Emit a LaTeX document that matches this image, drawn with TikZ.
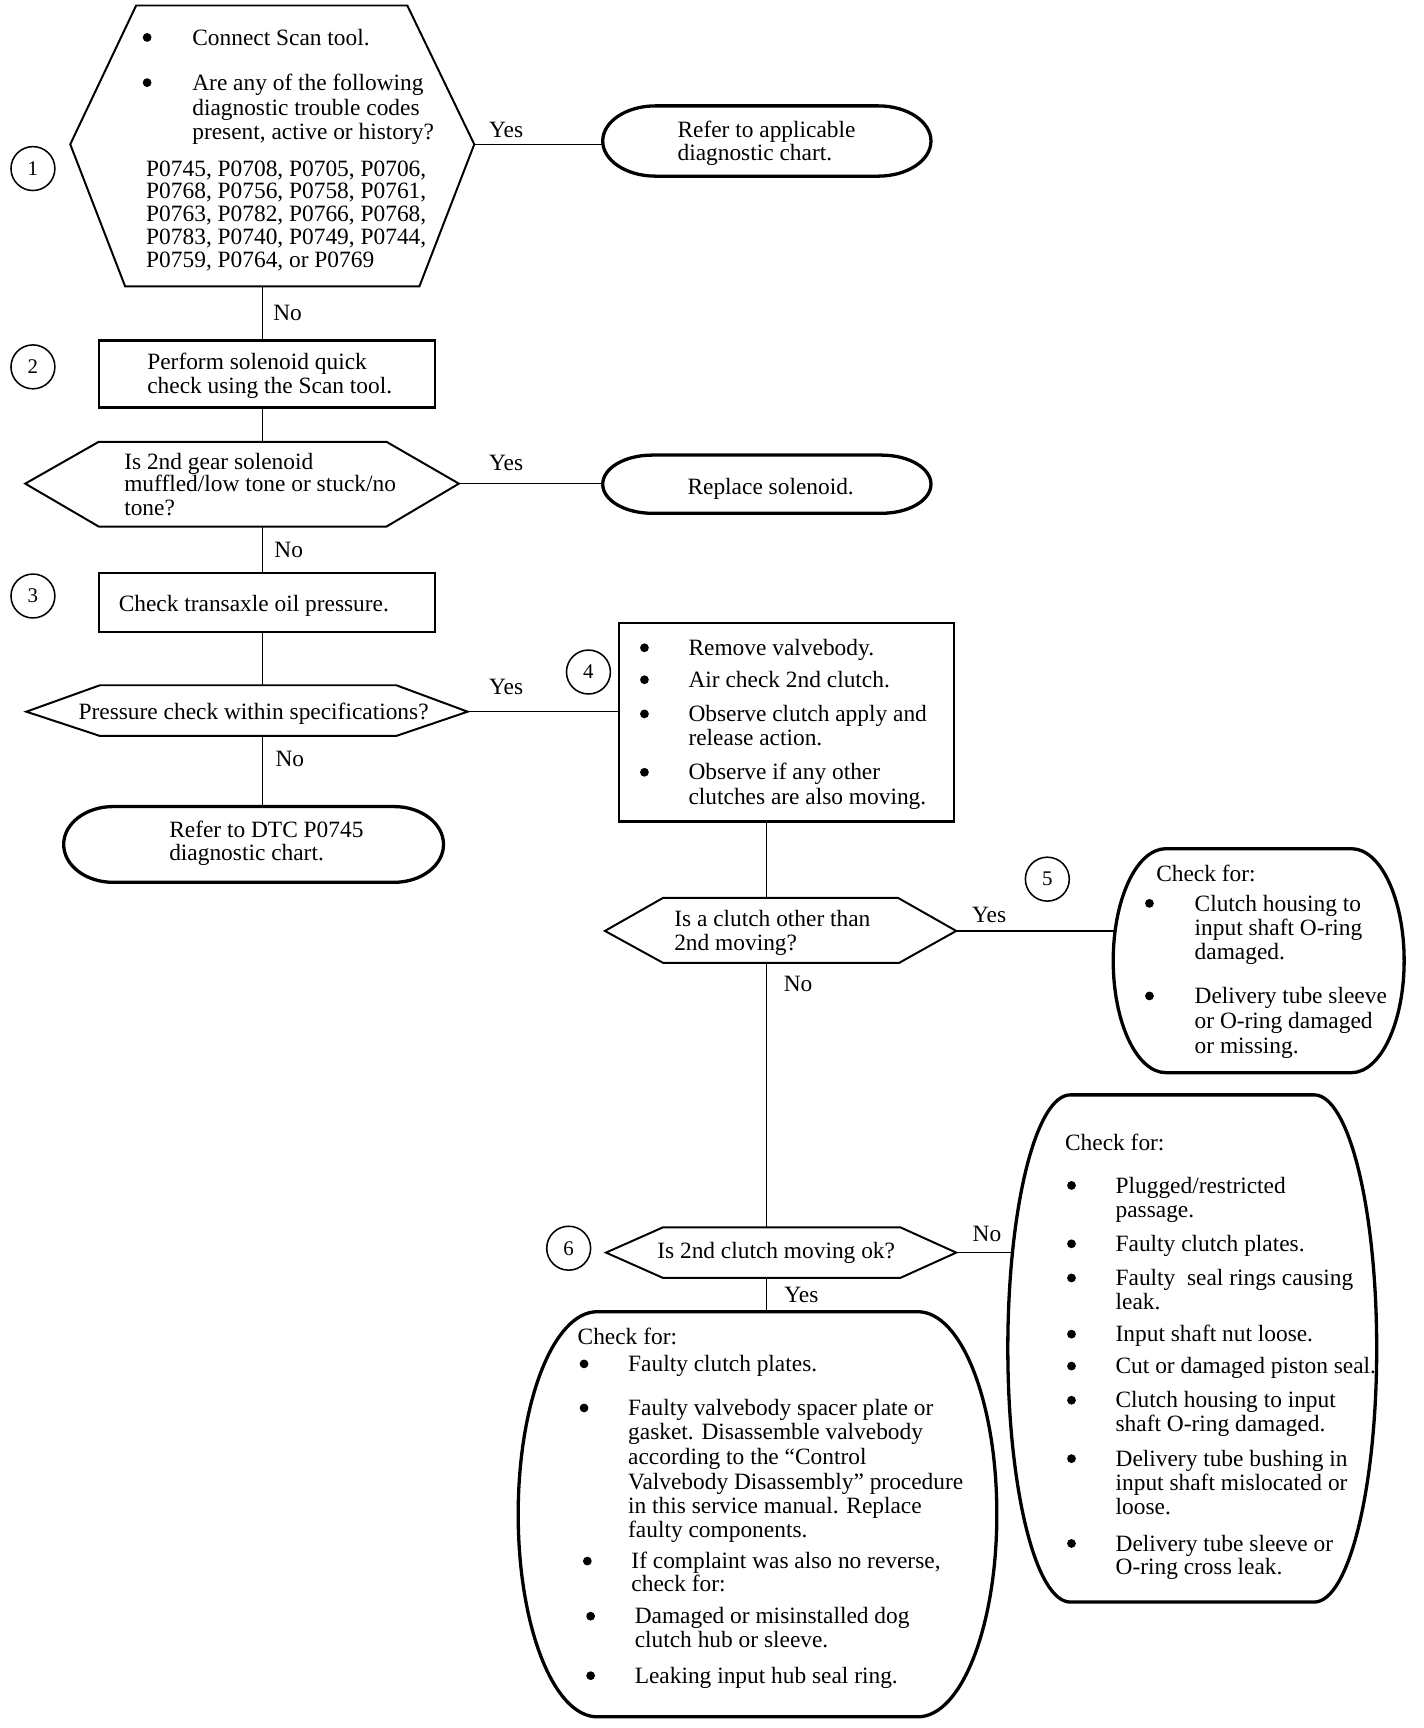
\documentclass[tikz,border=0pt]{standalone}
\usepackage{fontspec}
\setmainfont{Liberation Serif}
\newcommand\stadium[3]{\draw[term] ([xshift=#2]#1.north west) -- ([xshift=-#2]#1.north east) arc[start angle=90,end angle=-90,x radius=#2,y radius=#3] -- ([xshift=#2]#1.south west) arc[start angle=270,end angle=90,x radius=#2,y radius=#3] -- cycle;}
\newcommand\tl[4]{\node[txt] (#1) at (#2,#3+8) {#4};}
\newcommand\ctl[4]{\node[ctxt] (#1) at (#2,#3+8) {#4};}
\newcommand\bul[3]{\node[bul] (#1) at (#2,#3+1) {};}
\begin{document}
\begin{tikzpicture}[x=1pt,y=-1.0035pt,
  conn/.style={line width=1.4pt},
  hexs/.style={line width=1.8pt,line join=miter},
  boxs/.style={draw,line width=2pt,inner sep=0pt,outer sep=0pt},
  ghost/.style={draw=none,inner sep=0pt,outer sep=0pt},
  term/.style={line width=3pt},
  bul/.style={circle,fill,inner sep=0pt,minimum width=7.5pt,minimum height=8pt},
  num/.style={circle,draw,line width=1.4pt,minimum size=40pt,inner sep=0pt,font=\fontsize{19}{19}\selectfont},
  txt/.style={anchor=base west,inner sep=0pt,font=\fontsize{21.3}{22}\selectfont},
  ctxt/.style={txt,anchor=base}]
\useasboundingbox (0pt,0pt) rectangle (1297pt,-1574pt);

% ---------- hexagon 1 ----------
\draw[hexs] (64,131) coordinate (h1w) -- (124,5) -- (371,5) -- (432,131) coordinate (h1e) -- (382,260) -- (114,260) -- cycle;
\coordinate (h1s) at (239,260);
\bul{h1b1}{134}{33}
\tl{h1a}{175}{33}{Connect Scan tool.}
\bul{h1b2}{134}{74}
\tl{h1c}{175}{74}{Are any of the following}
\tl{h1d}{175}{97}{diagnostic trouble codes}
\tl{h1e2}{175}{119}{present, active or history?}
\tl{h1f}{133}{152}{P0745, P0708, P0705, P0706,}
\tl{h1g}{133}{172}{P0768, P0756, P0758, P0761,}
\tl{h1h}{133}{193}{P0763, P0782, P0766, P0768,}
\tl{h1i}{133}{214}{P0783, P0740, P0749, P0744,}
\tl{h1j}{133}{235}{P0759, P0764, or P0769}
\node[num] (n1) at (30,153) {1};

% terminal 1
\node[ghost,minimum width=299pt,minimum height=64pt] (t1) at (698.5,128) {};
\stadium{t1}{48pt}{32pt}
\tl{t1a}{617}{117}{Refer to applicable}
\tl{t1b}{617}{138}{diagnostic chart.}
\draw[conn] (h1e) -- (h1e -| t1.west);
\ctl{y1}{461}{117}{Yes}

% ---------- box 2 ----------
\node[boxs,minimum width=306pt,minimum height=61pt] (b2) at (243,339.5) {};
\tl{b2a}{134}{327}{Perform solenoid quick}
\tl{b2b}{134}{349}{check using the Scan tool.}
\node[num] (n2) at (30,333) {2};
\draw[conn] (h1s) -- (h1s |- b2.north);
\ctl{no1}{262}{283}{No}

% ---------- hexagon 2 ----------
\draw[hexs] (23,439) -- (90,401) -- (352,401) -- (418,439) coordinate (h2e) -- (352,478) -- (90,478) -- cycle;
\coordinate (h2n) at (239,401);
\coordinate (h2s) at (239,478);
\tl{h2a}{113}{418}{Is 2nd gear solenoid}
\tl{h2b}{113}{438}{muffled/low tone or stuck/no}
\tl{h2c}{113}{460}{tone?}
\draw[conn] (b2.south -| h2n) -- (h2n);

% terminal 2
\node[ghost,minimum width=299pt,minimum height=53pt] (t2) at (698.5,439.5) {};
\stadium{t2}{45pt}{26.5pt}
\ctl{t2a}{702}{441}{Replace solenoid.}
\draw[conn] (h2e) -- (h2e -| t2.west);
\ctl{y2}{461}{419}{Yes}

% ---------- box 3 ----------
\node[boxs,minimum width=306pt,minimum height=54pt] (b3) at (243,547) {};
\tl{b3a}{108}{547}{Check transaxle oil pressure.}
\node[num] (n3) at (30,541) {3};
\draw[conn] (h2s) -- (h2s |- b3.north);
\ctl{no2}{263}{498}{No}

% ---------- hexagon 3 ----------
\draw[hexs] (24,646) -- (91,622) -- (361,622) -- (426,646) coordinate (h3e) -- (361,668) -- (91,668) -- cycle;
\coordinate (h3n) at (239,622);
\coordinate (h3s) at (239,668);
\ctl{h3a}{231}{645}{Pressure check within specifications?}
\draw[conn] (b3.south -| h3n) -- (h3n);

% terminal 3
\node[ghost,minimum width=346pt,minimum height=69pt] (t3) at (231,766.5) {};
\stadium{t3}{45pt}{34.5pt}
\tl{t3a}{154}{752}{Refer to DTC P0745}
\tl{t3b}{154}{773}{diagnostic chart.}
\draw[conn] (h3s) -- (h3s |- t3.north);
\ctl{no3}{264}{688}{No}

% ---------- box 4 ----------
\node[boxs,minimum width=305pt,minimum height=181pt] (b4) at (716.5,655.5) {};
\draw[conn] (h3e) -- (h3e -| b4.west);
\ctl{y3}{461}{622}{Yes}
\node[num] (n4) at (536,610) {4};
\bul{b4b1}{587}{587}
\tl{b4a}{627}{587}{Remove valvebody.}
\bul{b4b2}{587}{616}
\tl{b4c}{627}{616}{Air check 2nd clutch.}
\bul{b4b3}{587}{647}
\tl{b4d}{627}{647}{Observe clutch apply and}
\tl{b4e}{627}{669}{release action.}
\bul{b4b4}{587}{700}
\tl{b4f}{627}{700}{Observe if any other}
\tl{b4g}{627}{722}{clutches are also moving.}

% ---------- hexagon 4 ----------
\draw[hexs] (551,845) -- (604,815) -- (818,815) -- (871,845) coordinate (h4e) -- (819,874) -- (604,874) -- cycle;
\coordinate (h4n) at (698,815);
\coordinate (h4s) at (698,874);
\tl{h4a}{614}{833}{Is a clutch other than}
\tl{h4b}{614}{855}{2nd moving?}
\draw[conn] (h4n |- b4.south) -- (h4n);

% box 5
\node[ghost,minimum width=265pt,minimum height=204pt] (b5) at (1146.5,872) {};
\stadium{b5}{48pt}{102pt}
\coordinate (b5in) at (1016,845);
\draw[conn] (h4e) -- (b5in);
\ctl{y4}{901}{829}{Yes}
\node[num] (n5) at (954,798) {5};
\tl{b5a}{1053}{792}{Check for:}
\bul{b5b1}{1047}{819}
\tl{b5b}{1088}{819}{Clutch housing to}
\tl{b5c}{1088}{841}{input shaft O-ring}
\tl{b5d}{1088}{863}{damaged.}
\bul{b5b2}{1047}{903}
\tl{b5e}{1088}{903}{Delivery tube sleeve}
\tl{b5f}{1088}{926}{or O-ring damaged}
\tl{b5g}{1088}{948}{or missing.}

% ---------- hexagon 6 ----------
\draw[hexs] (552,1137) -- (604,1114) -- (820,1114) -- (871,1137) coordinate (h6e) -- (820,1160) -- (604,1160) -- cycle;
\coordinate (h6n) at (698,1114);
\coordinate (h6s) at (698,1160);
\ctl{h6a}{707}{1134}{Is 2nd clutch moving ok?}
\node[num] (n6) at (518,1133) {6};
\draw[conn] (h4s) -- (h6n);
\ctl{no4}{727}{892}{No}

% right ellipse box
\node[ghost,minimum width=336pt,minimum height=462pt] (b7) at (1086,1224) {};
\stadium{b7}{57pt}{231pt}
\coordinate (b7in) at (922,1137);
\draw[conn] (h6e) -- (b7in);
\ctl{no5}{899}{1119}{No}
\tl{b7a}{970}{1036}{Check for:}
\bul{b7b1}{976}{1075}
\tl{b7b}{1016}{1075}{Plugged/restricted}
\tl{b7c}{1016}{1097}{passage.}
\bul{b7b2}{976}{1128}
\tl{b7d}{1016}{1128}{Faulty clutch plates.}
\bul{b7b3}{976}{1159}
\tl{b7e}{1016}{1159}{Faulty~ seal rings causing}
\tl{b7f}{1016}{1181}{leak.}
\bul{b7b4}{976}{1210}
\tl{b7g}{1016}{1210}{Input shaft nut loose.}
\bul{b7b5}{976}{1239}
\tl{b7h}{1016}{1239}{Cut or damaged piston seal.}
\bul{b7b6}{976}{1270}
\tl{b7i}{1016}{1270}{Clutch housing to input}
\tl{b7j}{1016}{1291}{shaft O-ring damaged.}
\bul{b7b7}{976}{1323}
\tl{b7k}{1016}{1323}{Delivery tube bushing in}
\tl{b7l}{1016}{1345}{input shaft mislocated or}
\tl{b7m}{1016}{1367}{loose.}
\bul{b7b8}{976}{1400}
\tl{b7n}{1016}{1400}{Delivery tube sleeve or}
\tl{b7o}{1016}{1421}{O-ring cross leak.}

% left big ellipse box
\node[ghost,minimum width=436pt,minimum height=369pt] (b6) at (690,1374.5) {};
\stadium{b6}{72pt}{184.5pt}
\draw[conn] (h6s) -- (h6s |- b6.north);
\ctl{y5}{730}{1174}{Yes}
\tl{b6a}{526}{1212}{Check for:}
\bul{b6b1}{532}{1237}
\tl{b6b}{572}{1237}{Faulty clutch plates.}
\bul{b6b2}{532}{1277}
\tl{b6c}{572}{1277}{Faulty valvebody spacer plate or}
\tl{b6d}{572}{1299}{gasket. Disassemble valvebody}
\tl{b6e}{572}{1321}{according to the “Control}
\tl{b6f}{572}{1344}{Valvebody Disassembly” procedure}
\tl{b6g}{572}{1366}{in this service manual. Replace}
\tl{b6h}{572}{1388}{faulty components.}
\bul{b6b3}{535}{1416}
\tl{b6i}{575}{1416}{If complaint was also no reverse,}
\tl{b6j}{575}{1437}{check for:}
\bul{b6b4}{538}{1466}
\tl{b6k}{578}{1466}{Damaged or misinstalled dog}
\tl{b6l}{578}{1487}{clutch hub or sleeve.}
\bul{b6b5}{538}{1520}
\tl{b6m}{578}{1520}{Leaking input hub seal ring.}
\end{tikzpicture}
\end{document}
